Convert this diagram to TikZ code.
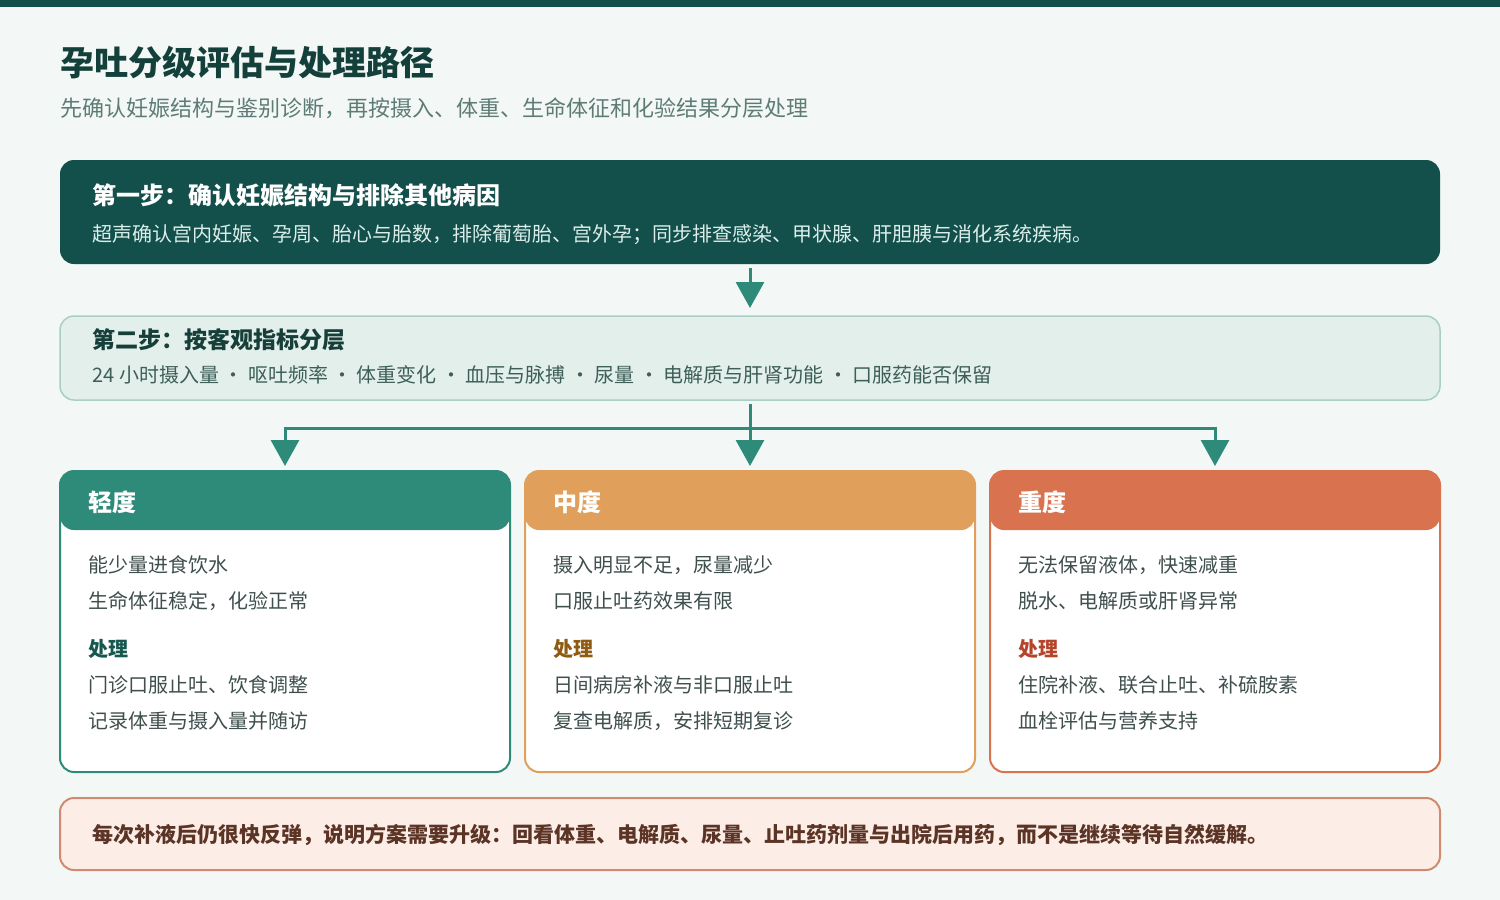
\documentclass[tikz,border=0pt]{standalone}
\usepackage{fontspec}
\setmainfont{Noto Sans CJK SC}
\usetikzlibrary{arrows.meta}
\definecolor{bgc}{HTML}{F3F8F6}
\definecolor{dark}{HTML}{134F4B}
\definecolor{titlec}{HTML}{14403B}
\definecolor{subc}{HTML}{5E7C75}
\definecolor{lightbody}{HTML}{DCEEEA}
\definecolor{arrc}{HTML}{2E8B7A}
\definecolor{s2fill}{HTML}{E3EFEB}
\definecolor{s2border}{HTML}{A9CFC4}
\definecolor{s2title}{HTML}{173F3A}
\definecolor{s2body}{HTML}{3E5F58}
\definecolor{mildc}{HTML}{2E8B7A}
\definecolor{modc}{HTML}{E0A05C}
\definecolor{sevc}{HTML}{D9724F}
\definecolor{bodyc}{HTML}{3F4F4D}
\definecolor{treatmild}{HTML}{16574F}
\definecolor{treatmod}{HTML}{8F5A12}
\definecolor{treatsev}{HTML}{B4452B}
\definecolor{notefill}{HTML}{FCEEE7}
\definecolor{noteborder}{HTML}{D08A70}
\definecolor{notetext}{HTML}{5B3426}
\tikzset{
  panel/.style={rectangle, rounded corners=7pt, anchor=north west, inner sep=0pt, outer sep=0pt, minimum width=690pt},
  card/.style={rectangle, rounded corners=7pt, anchor=north west, inner sep=0pt, outer sep=0pt,
    minimum width=225pt, minimum height=150.5pt, fill=white, draw=#1, line width=1pt,
    path picture={\fill[#1] (path picture bounding box.north west) rectangle ([yshift=-29.5pt]path picture bounding box.north east);}},
  txt/.style={anchor=west, inner sep=0pt},
  head/.style={txt, font=\fontsize{12}{14}\selectfont\bfseries, text=white},
  line/.style={txt, font=\fontsize{10}{12}\selectfont, text=bodyc},
  treat/.style={txt, font=\fontsize{10}{12}\selectfont\bfseries, text=#1},
  arr/.style={draw=arrc, line width=1.5pt, -{Triangle[width=14pt,length=13pt]}},
  conn/.style={draw=arrc, line width=1.5pt},
}
\begin{document}
\begin{tikzpicture}[x=0.5pt,y=-0.5pt]
\useasboundingbox (0,0) rectangle (1500,900);
\fill[bgc] (0,0) rectangle (1500,900);
\fill[dark] (0,0) rectangle (1500,7);

\node[txt, font=\fontsize{17}{20}\selectfont\bfseries, text=titlec] (title) at (60,63) {孕吐分级评估与处理路径};
\node[txt, font=\fontsize{11}{13}\selectfont, text=subc] (subtitle) at (60,108) {先确认妊娠结构与鉴别诊断，再按摄入、体重、生命体征和化验结果分层处理};

% step 1
\node[panel, fill=dark, minimum height=52pt] (step1) at (60,160) {};
\node[txt, font=\fontsize{12}{14}\selectfont\bfseries, text=white] (s1t) at (92,195) {第一步：确认妊娠结构与排除其他病因};
\node[txt, font=\fontsize{10}{12}\selectfont, text=lightbody] (s1b) at (92,235) {超声确认宫内妊娠、孕周、胎心与胎数，排除葡萄胎、宫外孕；同步排查感染、甲状腺、肝胆胰与消化系统疾病。};

% step 2
\node[panel, fill=s2fill, draw=s2border, line width=0.75pt, minimum height=42pt] (step2) at (60,316) {};
\node[txt, font=\fontsize{11.5}{14}\selectfont\bfseries, text=s2title] (s2t) at (92,340) {第二步：按客观指标分层};
\node[txt, font=\fontsize{10}{12}\selectfont, text=s2body] (s2b) at (92,375) {24 小时摄入量 · 呕吐频率 · 体重变化 · 血压与脉搏 · 尿量 · 电解质与肝肾功能 · 口服药能否保留};

% cards
\node[card=mildc] (c1) at (60,471) {};
\node[card=modc] (c2) at (525,471) {};
\node[card=sevc] (c3) at (990,471) {};

\node[head] (h1) at (88,502) {轻度};
\node[head] (h2) at (553,502) {中度};
\node[head] (h3) at (1018,502) {重度};

\node[line] (c1a) at (88,565) {能少量进食饮水};
\node[line] (c1b) at (88,601) {生命体征稳定，化验正常};
\node[treat=treatmild] (c1t) at (88,649) {处理};
\node[line] (c1c) at (88,685) {门诊口服止吐、饮食调整};
\node[line] (c1d) at (88,721) {记录体重与摄入量并随访};

\node[line] (c2a) at (553,565) {摄入明显不足，尿量减少};
\node[line] (c2b) at (553,601) {口服止吐药效果有限};
\node[treat=treatmod] (c2t) at (553,649) {处理};
\node[line] (c2c) at (553,685) {日间病房补液与非口服止吐};
\node[line] (c2d) at (553,721) {复查电解质，安排短期复诊};

\node[line] (c3a) at (1018,565) {无法保留液体，快速减重};
\node[line] (c3b) at (1018,601) {脱水、电解质或肝肾异常};
\node[treat=treatsev] (c3t) at (1018,649) {处理};
\node[line] (c3c) at (1018,685) {住院补液、联合止吐、补硫胺素};
\node[line] (c3d) at (1018,721) {血栓评估与营养支持};

% note
\node[panel, fill=notefill, draw=noteborder, line width=1pt, minimum height=36pt] (note) at (60,798) {};
\node[txt, font=\fontsize{10.5}{12}\selectfont\bfseries, text=notetext] (notet) at (92,835) {每次补液后仍很快反弹，说明方案需要升级：回看体重、电解质、尿量、止吐药剂量与出院后用药，而不是继续等待自然缓解。};

% connectors
\draw[arr, shorten <=2pt, shorten >=4pt] (step1.south) -- (step2.north);
\coordinate (jn) at (750,428);
\draw[arr, shorten <=2pt, shorten >=2.5pt] (step2.south) -- (c2.north);
\draw[conn] (c1.north |- jn) -- (c3.north |- jn);
\draw[arr, shorten >=2.5pt] ([yshift=0.75pt]c1.north |- jn) -- (c1.north);
\draw[arr, shorten >=2.5pt] ([yshift=0.75pt]c3.north |- jn) -- (c3.north);
\end{tikzpicture}
\end{document}
